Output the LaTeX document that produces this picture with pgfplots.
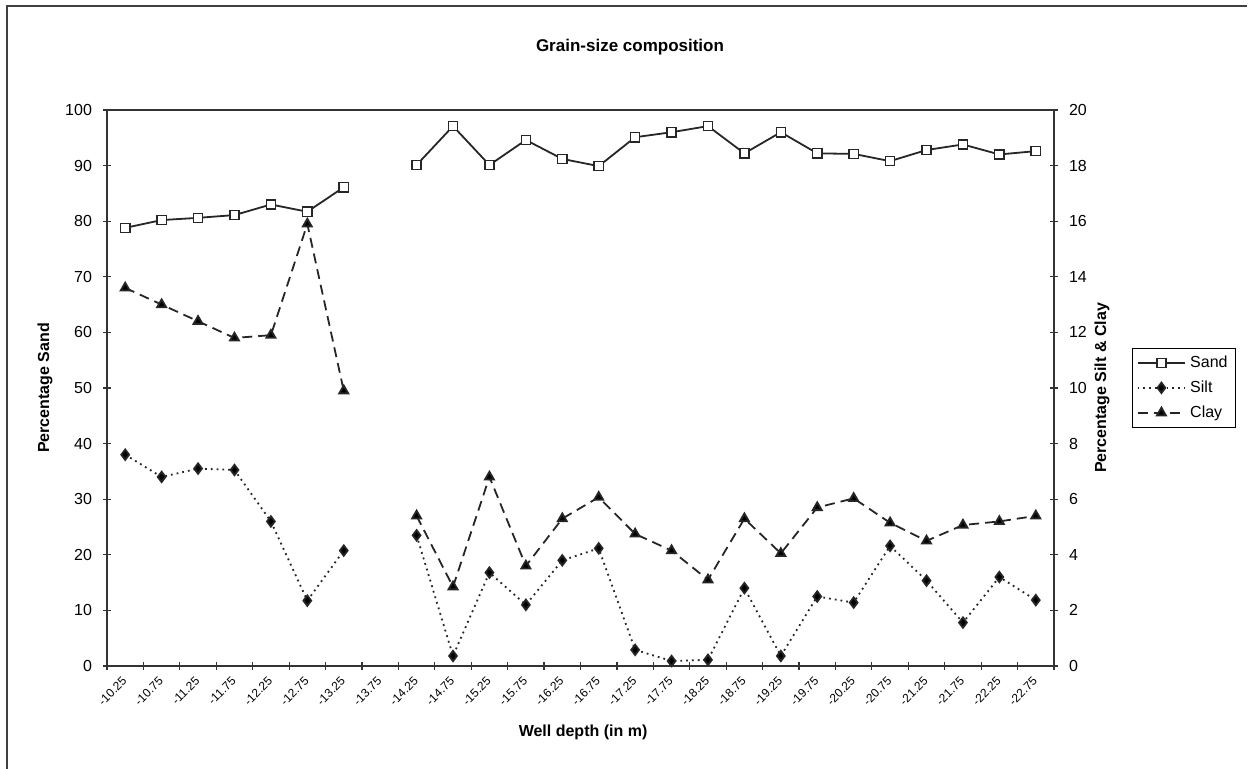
\documentclass[border=0pt]{standalone}
\usepackage{fontspec}
\setmainfont{Liberation Sans}
\usepackage{pgfplots}
\pgfplotsset{compat=1.18}
\begin{document}
\begin{tikzpicture}
\useasboundingbox (-53.5pt,-51.5pt) rectangle (571.5pt,333pt);
\draw[black!75, line width=0.9pt] (-50pt,-51.5pt) -- (-50pt,330pt) -- (570pt,330pt);
\node[font=\fontsize{8.5}{10}\selectfont\bfseries] at (261.5pt,309.5pt) {Grain-size composition};
\begin{axis}[
  at={(0pt,0pt)}, anchor=south west, scale only axis,
  width=473.5pt, height=278pt,
  xmin=-0.5, xmax=25.5, ymin=0, ymax=100,
  axis line style={black!80, line width=0.8pt},
  xtick={0,...,25},
  xticklabels={-10.25,-10.75,-11.25,-11.75,-12.25,-12.75,-13.25,-13.75,-14.25,-14.75,-15.25,-15.75,-16.25,-16.75,-17.25,-17.75,-18.25,-18.75,-19.25,-19.75,-20.25,-20.75,-21.25,-21.75,-22.25,-22.75},
  minor xtick={-0.5,0.5,...,25.5},
  major x tick style={draw=none},
  minor x tick style={black!80, line width=0.6pt},
  minor tick length=4pt,
  major tick length=4pt,
  tick align=center,
  xtick pos=lower, ytick pos=left,
  ytick={0,10,...,100},
  ytick style={black!80, line width=0.6pt},
  /pgf/number format/assume math mode=true,
  yticklabel style={font=\fontsize{8}{9}\selectfont, xshift=-2pt},
  xticklabel style={font=\fontsize{6}{7}\selectfont, rotate=45, anchor=east, yshift=-3pt},
  ylabel={Percentage Sand},
  ylabel style={font=\fontsize{8}{9}\selectfont\bfseries, at={(axis description cs:-0.0655,0.5)}, anchor=center},
  xlabel={Well depth (in m)},
  xlabel style={font=\fontsize{8}{9}\selectfont\bfseries, at={(axis description cs:0.5027,-0.1187)}, anchor=center},
  unbounded coords=jump,
  clip=false,
]
\addplot[black!85, line width=0.9pt, mark=square*, mark size=2.3pt, mark options={fill=white, solid, line width=0.7pt}]
coordinates {
(0,78.8) (1,80.2) (2,80.6) (3,81.1) (4,83.0) (5,81.7) (6,86.1) (7,nan)
(8,90.1) (9,97.1) (10,90.1) (11,94.6) (12,91.2) (13,89.9) (14,95.1) (15,96.0)
(16,97.1) (17,92.2) (18,96.0) (19,92.2) (20,92.1) (21,90.8) (22,92.8) (23,93.8)
(24,92.0) (25,92.6)
};
\end{axis}
\begin{axis}[
  at={(0pt,0pt)}, anchor=south west, scale only axis,
  width=473.5pt, height=278pt,
  xmin=-0.5, xmax=25.5, ymin=0, ymax=20,
  axis x line=none,
  axis y line*=right,
  axis line style={black!80, line width=0.8pt},
  ytick={0,2,...,20},
  major tick length=4pt,
  tick align=center,
  ytick style={black!80, line width=0.6pt},
  /pgf/number format/assume math mode=true,
  yticklabel style={font=\fontsize{8}{9}\selectfont, xshift=2pt},
  ylabel={Percentage Silt \& Clay},
  ylabel style={font=\fontsize{8}{9}\selectfont\bfseries, at={(axis description cs:1.0507,0.5)}, anchor=center},
  unbounded coords=jump,
  clip=false,
  legend style={at={(axis description cs:1.0824,0.572)}, anchor=north west,
    draw=black, line width=0.6pt, font=\fontsize{8}{9}\selectfont,
    inner xsep=2pt, inner ysep=1.5pt, row sep=1.2pt, cells={anchor=west}},
  legend image code/.code={\draw[#1, mark repeat=2, mark phase=2] plot coordinates {(0cm,0cm) (0.42cm,0cm) (0.84cm,0cm)};},
]
\addlegendimage{black!85, line width=0.9pt, mark=square*, mark size=2.3pt, mark options={fill=white, solid, line width=0.7pt}}
\addlegendentry{Sand}
\addplot[black!85, line width=0.9pt, dotted, mark=diamond*, mark size=2.6pt, mark options={fill=black, solid}]
coordinates {
(0,7.6) (1,6.8) (2,7.1) (3,7.05) (4,5.2) (5,2.35) (6,4.15) (7,nan)
(8,4.7) (9,0.36) (10,3.36) (11,2.2) (12,3.8) (13,4.23) (14,0.58) (15,0.18)
(16,0.22) (17,2.8) (18,0.36) (19,2.5) (20,2.28) (21,4.32) (22,3.07) (23,1.56)
(24,3.2) (25,2.37)
};
\addlegendentry{Silt}
\addplot[black!85, line width=0.9pt, dash pattern=on 5pt off 3pt, mark=triangle*, mark size=2.6pt, mark options={fill=black, solid}]
coordinates {
(0,13.6) (1,13.0) (2,12.4) (3,11.8) (4,11.9) (5,15.9) (6,9.9) (7,nan)
(8,5.4) (9,2.85) (10,6.8) (11,3.6) (12,5.3) (13,6.07) (14,4.75) (15,4.15)
(16,3.1) (17,5.3) (18,4.05) (19,5.7) (20,6.03) (21,5.15) (22,4.5) (23,5.07)
(24,5.2) (25,5.4)
};
\addlegendentry{Clay}
\end{axis}
\end{tikzpicture}
\end{document}
